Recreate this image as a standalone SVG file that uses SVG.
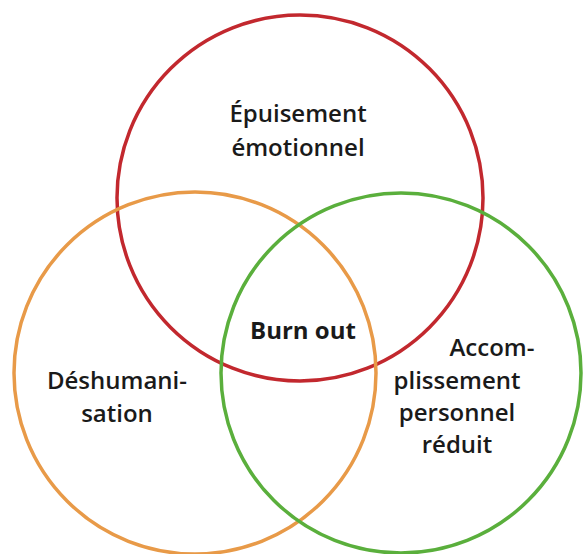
<svg xmlns="http://www.w3.org/2000/svg" width="585" height="554" viewBox="0 0 585 554">
<style>
.c{fill:none;stroke-width:3.5}
.t{font-family:"Open Sans","Liberation Sans",sans-serif;font-size:24px;font-weight:600;fill:#1a1a1a;text-anchor:middle}
.b{font-weight:700}
</style>
<rect width="585" height="554" fill="#fff"/>
<g id="connectors"></g>
<g id="red"><circle class="c" cx="300" cy="198" r="183" stroke="#c2282e"/></g>
<g id="orange"><circle class="c" cx="195" cy="373" r="181" stroke="#e89a48"/></g>
<g id="green"><circle class="c" cx="401" cy="373" r="180" stroke="#5aaf3c"/></g>
<g id="epuisement"><text class="t" x="298" y="122">Épuisement</text><text class="t" x="298" y="156">émotionnel</text></g>
<g id="burnout"><text class="t b" x="303" y="339">Burn out</text></g>
<g id="deshum"><text class="t" x="117" y="389">Déshumani-</text><text class="t" x="117" y="422">sation</text></g>
<g id="accomp"><text class="t" x="492" y="356">Accom-</text><text class="t" x="457" y="389">plissement</text><text class="t" x="457" y="421">personnel</text><text class="t" x="457" y="453">réduit</text></g>
</svg>
